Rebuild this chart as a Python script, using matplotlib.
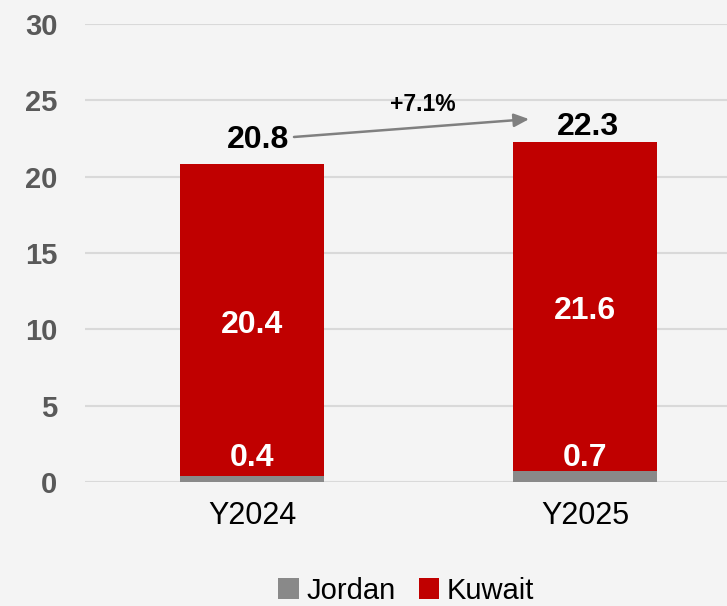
import matplotlib.pyplot as plt
import numpy as np

plt.rcParams['font.family'] = ['Liberation Sans', 'DejaVu Sans']

years = ['Y2024', 'Y2025']
jordan = [0.4, 0.7]
kuwait = [20.4, 21.6]
totals = [20.8, 22.3]
growth = '+7.1%'

grey = '#898989'
red = '#C00000'
bg = '#F4F4F4'

fig = plt.figure(figsize=(7.27, 6.06), dpi=100, facecolor=bg)
ax = fig.add_axes([0.117, 0.2046, 0.883, 0.7558])
ax.set_facecolor(bg)

x = np.arange(len(years))
w = 0.432
ax.bar(x, jordan, w, color=grey, label='Jordan', zorder=3)
ax.bar(x, kuwait, w, bottom=jordan, color=red, label='Kuwait', zorder=3)

# total labels sit a little differently above each bar in the original
tot_off = [(4.3, 11.5), (2, 5)]

for i in range(len(years)):
    ax.annotate(f'{jordan[i]:.1f}', (x[i], 0), xytext=(0, 11.5), textcoords='offset points',
                ha='center', va='baseline', color='white', fontsize=23, fontweight='bold', zorder=4)
    ax.annotate(f'{kuwait[i]:.1f}', (x[i], jordan[i] + kuwait[i] / 2), xytext=(0, -3.5),
                textcoords='offset points', ha='center', va='center',
                color='white', fontsize=23, fontweight='bold', zorder=4)
    ax.annotate(f'{totals[i]:.1f}', (x[i], totals[i]), xytext=tot_off[i], textcoords='offset points',
                ha='center', va='baseline', color='black', fontsize=23, fontweight='bold', zorder=4)

# growth arrow
ax.annotate('', xy=(x[1] - 0.168, totals[1] + 1.47), xytext=(x[0] + 0.126, totals[0] + 1.8),
            arrowprops=dict(arrowstyle='-|>,head_length=0.9,head_width=0.4', color='#808080', lw=1.8,
                            shrinkA=0, shrinkB=0), zorder=5)
ax.text((x[0] + x[1]) / 2 + 0.014, 24.7, growth, ha='center', va='center',
        fontsize=16.5, fontweight='bold', color='black')

ax.set_xlim(-0.5015, 1.4265)
ax.set_ylim(0, 30)
ax.set_yticks(np.arange(0, 31, 5))
ax.set_xticks(x)
ax.set_xticklabels(years)
ax.tick_params(axis='y', length=0, pad=20, labelsize=21, labelcolor='#595959')
ax.tick_params(axis='x', length=0, pad=14, labelsize=22, labelcolor='black')
for lab in ax.get_yticklabels():
    lab.set_fontweight('bold')
ax.grid(axis='y', color='#D9D9D9', lw=1.5, zorder=0)
for s in ax.spines.values():
    s.set_visible(False)

ax.legend(loc='center', bbox_to_anchor=(0.5, -0.237), ncol=2, frameon=False, fontsize=21,
          handlelength=0.7, handleheight=0.7, handletextpad=0.25, columnspacing=0.8)

fig.savefig('out.png', dpi=100, facecolor=bg)
